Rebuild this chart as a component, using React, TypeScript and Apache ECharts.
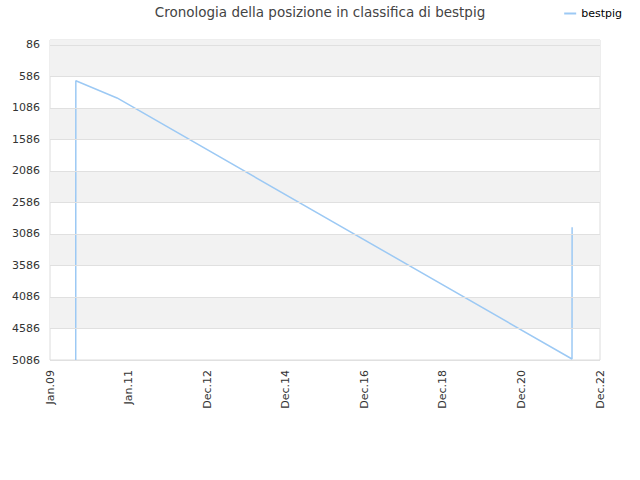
import React, { useEffect, useRef } from "react";
import * as echarts from "echarts";

const TITLE = "Cronologia della posizione in classifica di bestpig";
const SERIES_NAME = "bestpig";

// points (date, rank)
const dates = ["2009-08-31", "2009-09-01", "2010-09-17", "2022-03-28", "2022-03-29"];
const ranks = [5086, 653, 927, 5070, 2980];

const X_START = "2009-01-05";
const X_END = "2022-12-12";
const X_TICKS = 7;
const Y_MIN = 7;
const yTicks = [86, 586, 1086, 1586, 2086, 2586, 3086, 3586, 4086, 4586, 5086];
const MONTHS = ["Jan", "Feb", "Mar", "Apr", "May", "Jun", "Jul", "Aug", "Sep", "Oct", "Nov", "Dec"];

const LINE_COLOR = "#9cc9f4";
const BAND_COLOR = "#f2f2f2";
const FONT = "DejaVu Sans";

function ts(d: string) {
    return Date.parse(d + "T00:00:00Z");
}

function fmtDate(v: number) {
    const d = new Date(v);
    return MONTHS[d.getUTCMonth()] + "." + String(d.getUTCFullYear() % 100).padStart(2, "0");
}

const App: React.FC = () => {
    const ref = useRef<HTMLDivElement | null>(null);

    useEffect(() => {
        if (!ref.current) return;
        document.body.style.margin = "0";
        const inst = echarts.init(ref.current, undefined, { renderer: "svg" });

        const xMin = ts(X_START);
        const xMax = ts(X_END);
        const step = (xMax - xMin) / X_TICKS;
        const xTicks = Array.from({ length: X_TICKS + 1 }, (_, i) => xMin + i * step);

        // grey bands: top strip + every other interval between ticks
        const bands: any[] = [];
        for (let i = 0; i + 1 < yTicks.length; i += 2) {
            bands.push([{ yAxis: i === 0 ? Y_MIN : yTicks[i] }, { yAxis: yTicks[i + 1] }]);
        }

        inst.setOption({
            animation: false,
            textStyle: { fontFamily: FONT },
            title: {
                text: TITLE,
                left: "center",
                top: 0,
                textStyle: { fontSize: 13.5, fontWeight: "normal", color: "#444", fontFamily: FONT },
            },
            legend: {
                data: [{ name: SERIES_NAME, icon: "rect" }],
                right: 13,
                top: 3,
                itemWidth: 12,
                itemHeight: 2,
                itemGap: 6,
                textStyle: { fontSize: 11, color: "#000", fontFamily: FONT },
            },
            grid: {
                left: 50,
                right: 40,
                top: 40,
                bottom: 120,
                show: true,
                backgroundColor: "#ffffff",
                borderColor: "#dcdcdc",
                borderWidth: 1,
            },
            xAxis: {
                type: "value",
                min: xMin,
                max: xMax,
                axisLine: { show: false },
                axisTick: { show: false, customValues: xTicks },
                splitLine: { show: false },
                axisLabel: {
                    customValues: xTicks,
                    rotate: 90,
                    margin: 10,
                    fontSize: 11,
                    color: "#333",
                    fontFamily: FONT,
                    formatter: (v: number) => fmtDate(v),
                },
            },
            yAxis: {
                type: "value",
                inverse: true,
                min: Y_MIN,
                max: 5086,
                z: 3,
                axisLine: { show: false },
                axisTick: { show: false, customValues: yTicks },
                axisLabel: {
                    customValues: yTicks,
                    margin: 10,
                    fontSize: 11,
                    color: "#333",
                    fontFamily: FONT,
                    formatter: (v: number) => String(v),
                },
                splitLine: { show: true, lineStyle: { color: "#e0e0e0", width: 1 } },
                splitArea: { show: false },
            },
            series: [
                {
                    name: SERIES_NAME,
                    type: "line",
                    z: 2,
                    data: dates.map((d, i) => [ts(d), ranks[i]]),
                    symbol: "none",
                    lineStyle: { color: LINE_COLOR, width: 1.5 },
                    itemStyle: { color: LINE_COLOR },
                    markArea: {
                        silent: true,
                        itemStyle: { color: BAND_COLOR },
                        data: bands,
                    },
                },
            ],
        });

        return () => inst.dispose();
    }, []);

    return <div ref={ref} style={{ width: 640, height: 480 }} />;
};

export default App;
